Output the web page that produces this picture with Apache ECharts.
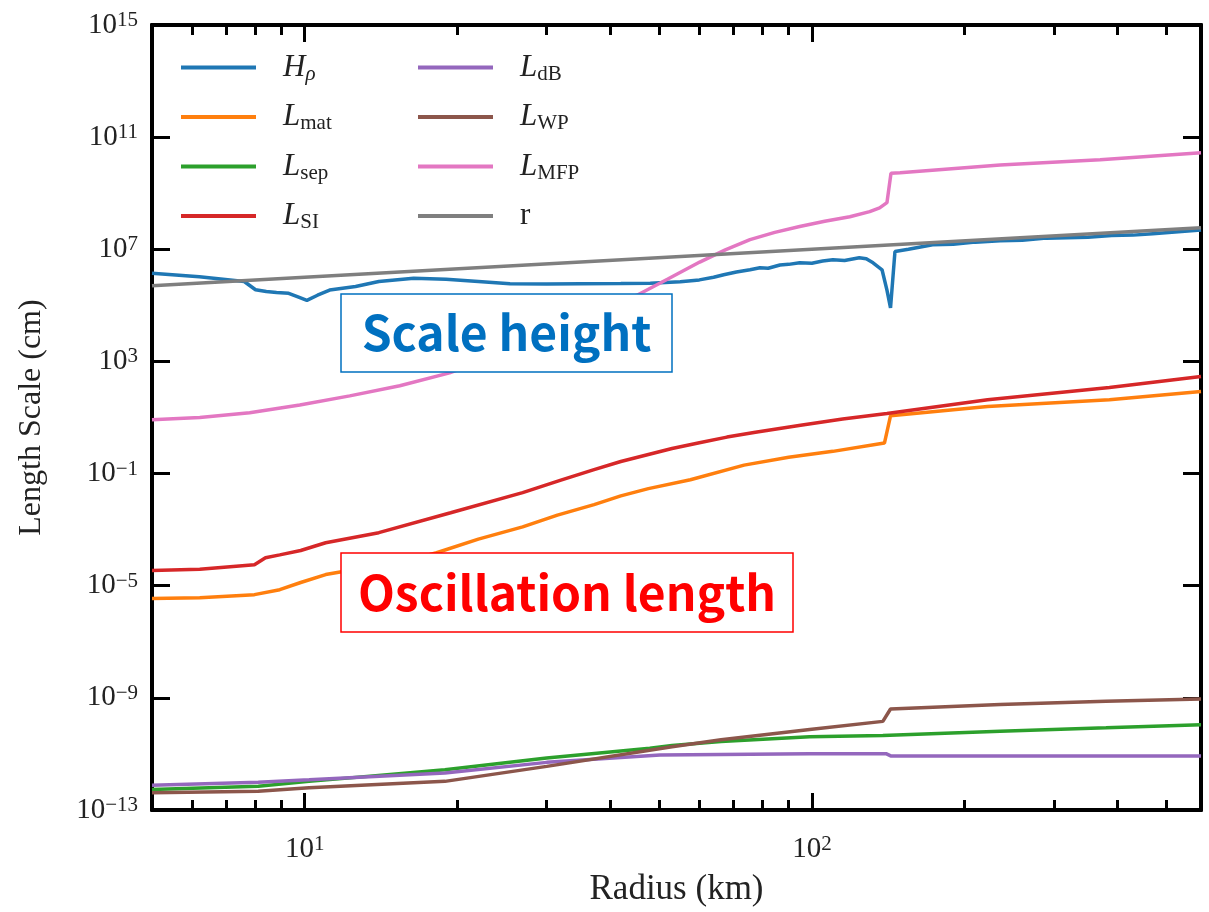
<!DOCTYPE html>
<html>
<head>
<meta charset="utf-8">
<script src="https://cdn.jsdelivr.net/npm/echarts@6/dist/echarts.min.js"></script>
<style>
html,body{margin:0;padding:0;background:#fff;}
#chart{width:1209px;height:912px;}
</style>
</head>
<body>
<div id="chart"></div>
<script>
// ---- axis ranges and ticks ----
const xMin = 5, xMax = 585;
const yMin = 1e-13, yMax = 1e15;
const xMajorTicks = [10, 100];
const xMinorTicks = [6, 7, 8, 9, 20, 30, 40, 50, 60, 70, 80, 90, 200, 300, 400, 500];
const yTicks = [1e-13, 1e-9, 1e-5, 1e-1, 1e3, 1e7, 1e11, 0.99999e15];

// ---- series: [radius (km), length (cm)] ----
const H_rho = [[5,1.41e6],[6.2,1.05e6],[7.6,7.1e5],[8.0,3.6e5],[8.4,3.1e5],[8.8,2.9e5],[9.3,2.7e5],[9.7,2.0e5],[10.1,1.5e5],[10.6,2.3e5],[11.2,3.5e5],[12.6,4.7e5],[14.0,7.1e5],[16.4,9.3e5],[19.0,8.5e5],[22.0,7.1e5],[25.4,5.9e5],[30,5.8e5],[35,5.9e5],[42,6.0e5],[48,6.2e5],[55,6.9e5],[60,8.1e5],[64,1.0e6],[67,1.23e6],[71,1.55e6],[75.5,1.86e6],[79,2.2e6],[82,2.1e6],[86.5,2.75e6],[90,2.9e6],[94.6,3.3e6],[100,3.2e6],[105,3.8e6],[110,4.2e6],[116,4.0e6],[124,5.0e6],[128,4.6e6],[132,3.3e6],[137.5,1.86e6],[140.6,3.5e5],[142.9,8.1e4],[145.8,8.3e6],[155,1.0e7],[173,1.45e7],[190,1.5e7],[210,1.8e7],[235,2.0e7],[260,2.1e7],[290,2.5e7],[319,2.6e7],[350,2.7e7],[390,3.1e7],[430,3.2e7],[470,3.6e7],[520,4.1e7],[585,4.9e7]];
const L_mat = [[5,3.5e-6],[6.21,3.7e-6],[7.96,4.8e-6],[8.93,7.2e-6],[9.82,1.3e-5],[11.0,2.5e-5],[11.9,3.2e-5],[15.4,6.6e-5],[18.2,1.5e-4],[22,4.6e-4],[26.9,1.26e-3],[31.5,3.3e-3],[37.2,7.8e-3],[42,1.6e-2],[47.6,2.9e-2],[57.6,6.0e-2],[73.5,0.20],[90,0.38],[110,0.62],[139,1.23],[142.9,11.5],[222,24.5],[386,43],[585,85]];
const L_sep = [[5,5.4e-13],[8.1,7.1e-13],[10.2,1.05e-12],[18.9,2.75e-12],[30,7.2e-12],[47.9,1.6e-11],[53,2.0e-11],[66.2,2.8e-11],[99,4.1e-11],[138,4.5e-11],[235,6.5e-11],[380,8.5e-11],[585,1.1e-10]];
const L_SI = [[5,3.5e-5],[6.21,3.9e-5],[7.96,5.6e-5],[8.37,1.0e-4],[8.93,1.26e-4],[9.82,1.8e-4],[11.0,3.4e-4],[14.0,7.8e-4],[19.4,4.0e-3],[26.9,2.1e-2],[32,5.8e-2],[37.2,0.138],[42,0.27],[47.6,0.48],[53,0.78],[60,1.25],[68,2.0],[77.4,3.0],[95,5.3],[115,8.8],[140.6,14],[222,43],[386,118],[585,290]];
const L_dB = [[5,7.6e-13],[8.1,9.8e-13],[10.2,1.2e-12],[18.9,2.1e-12],[30,5.0e-12],[50.2,9.1e-12],[66.2,9.5e-12],[99,1.02e-11],[140,1.02e-11],[143,8.5e-12],[585,8.5e-12]];
const L_WP = [[5,4.1e-13],[8.1,4.7e-13],[10.2,6.2e-13],[18.9,1.05e-12],[30,3.6e-12],[53,1.8e-11],[66.2,3.2e-11],[99,7.4e-11],[138,1.45e-10],[142.9,4.0e-10],[235,5.8e-10],[380,7.6e-10],[585,9.1e-10]];
const L_MFP = [[5,8.3],[6.21,10],[7.79,14.8],[9.78,28],[12.27,59],[15.4,135],[19.3,390],[24.2,1.7e3],[30.4,1.05e4],[37.5,6.3e4],[45.2,2.3e5],[52,8.7e5],[60.1,3.5e6],[67.5,9.5e6],[75.5,2.2e7],[84.5,4.0e7],[94.6,6.5e7],[106,1.0e8],[118.8,1.45e8],[130,2.2e8],[136,3.0e8],[140.6,4.6e8],[143.2,5.2e9],[149.2,5.4e9],[235,1.02e10],[370,1.55e10],[585,2.8e10]];
const r_line = [[5,5e5],[10,1e6],[100,1e7],[585,5.85e7]];

const seriesNames = ['Hrho','Lmat','Lsep','LSI','LdB','LWP','LMFP','r'];
const seriesData = [H_rho, L_mat, L_sep, L_SI, L_dB, L_WP, L_MFP, r_line];
const colors = ['#1f77b4','#ff7f0e','#2ca02c','#d62728','#9467bd','#8c564b','#e377c2','#7f7f7f'];
const legendLabels = {
  Hrho: '{gap|}{i|H}{subi|ρ}',
  Lmat: '{gap|}{i|L}{sub|mat}',
  Lsep: '{gap|}{i|L}{sub|sep}',
  LSI: '{gap|}{i|L}{sub|SI}',
  LdB: '{gap|}{i|L}{sub|dB}',
  LWP: '{gap|}{i|L}{sub|WP}',
  LMFP: '{gap|}{i|L}{sub|MFP}',
  r: '{gap|}{rm|r}'
};

const SERIF = '"Liberation Serif", "DejaVu Serif", serif';
const TXT = '#222';

function powLabel(v) {
  const e = Math.round(Math.log10(v));
  const s = e < 0 ? '\u2212' + Math.abs(e) : String(e);
  return '{b|10}{s|' + s + '}';
}
const powRich = {
  b: {fontFamily: SERIF, fontSize: 29, lineHeight: 30, color: TXT},
  s: {fontFamily: SERIF, fontSize: 21, lineHeight: 14, verticalAlign: 'top', color: TXT}
};
const legendRich = {
  gap: {width: 22},
  i: {fontFamily: SERIF, fontStyle: 'italic', fontSize: 31, lineHeight: 34, color: TXT},
  rm: {fontFamily: SERIF, fontSize: 31, lineHeight: 34, color: TXT},
  sub: {fontFamily: SERIF, fontSize: 21, lineHeight: 20, verticalAlign: 'bottom', color: TXT},
  subi: {fontFamily: SERIF, fontStyle: 'italic', fontSize: 21, lineHeight: 20, verticalAlign: 'bottom', color: TXT}
};

const axisLineStyle = {show: true, lineStyle: {color: '#000', width: 4}};
function xAxisDef(pos, ticks, len, withLabel) {
  return {
    type: 'log', logBase: 10, min: xMin, max: xMax, position: pos,
    axisLine: axisLineStyle,
    axisTick: {show: true, inside: true, length: len, customValues: ticks, lineStyle: {color: '#000', width: 3}},
    axisLabel: withLabel ? {show: true, customValues: ticks, formatter: powLabel, rich: powRich, margin: 24} : {show: false},
    splitLine: {show: false}, minorTick: {show: false}, minorSplitLine: {show: false}
  };
}
const xAxes = [
  Object.assign(xAxisDef('bottom', xMajorTicks, 17, true), {
    name: 'Radius (km)', nameLocation: 'middle', nameGap: 62,
    nameTextStyle: {fontFamily: SERIF, fontSize: 35, color: TXT}
  }),
  xAxisDef('bottom', xMinorTicks, 10, false),
  xAxisDef('top', xMajorTicks, 17, false),
  xAxisDef('top', xMinorTicks, 10, false)
];
const yAxes = [
  {
    type: 'log', logBase: 10, min: yMin, max: yMax, position: 'left',
    axisLine: axisLineStyle,
    axisTick: {show: true, inside: true, length: 18, customValues: yTicks, lineStyle: {color: '#000', width: 3}},
    axisLabel: {show: true, customValues: yTicks, formatter: powLabel, rich: powRich, margin: 14,
                showMinLabel: true, showMaxLabel: true, hideOverlap: false},
    splitLine: {show: false}, minorTick: {show: false},
    name: 'Length Scale (cm)', nameLocation: 'middle', nameGap: 104, nameRotate: 90,
    nameTextStyle: {fontFamily: SERIF, fontSize: 32, color: TXT}
  },
  {
    type: 'log', logBase: 10, min: yMin, max: yMax, position: 'right',
    axisLine: axisLineStyle,
    axisTick: {show: true, inside: true, length: 18, customValues: yTicks, lineStyle: {color: '#000', width: 3}},
    axisLabel: {show: false}, splitLine: {show: false}, minorTick: {show: false}
  }
];

const series = seriesNames.map((n, k) => ({
  name: n, type: 'line', data: seriesData[k], xAxisIndex: 0, yAxisIndex: 0,
  showSymbol: false, symbol: 'none', smooth: false, clip: true,
  lineStyle: {color: colors[k], width: 3.5}, itemStyle: {color: colors[k]},
  z: 2 + k * 0.01
}));

function legendDef(names, left) {
  return {
    data: names, left: left, top: 52, orient: 'vertical', icon: 'rect',
    itemWidth: 75, itemHeight: 4, itemGap: 17, padding: 0,
    formatter: n => legendLabels[n],
    textStyle: {rich: legendRich, color: TXT}, selectedMode: false
  };
}

const BOXFONT = 'bold 48px "Noto Sans CJK JP", "Noto Sans", sans-serif';
const chart = echarts.init(document.getElementById('chart'), null, {renderer: 'canvas'});
chart.setOption({
  animation: false,
  backgroundColor: '#fff',
  color: colors,
  grid: {left: 152, right: 8, top: 25, bottom: 101, containLabel: false},
  xAxis: xAxes,
  yAxis: yAxes,
  legend: [legendDef(seriesNames.slice(0, 4), 181), legendDef(seriesNames.slice(4), 418)],
  series: series,
  graphic: [
    {type: 'rect', z: 100, shape: {x: 341, y: 294, width: 331, height: 78}, style: {fill: '#fff', stroke: '#0070C0', lineWidth: 1.5}},
    {type: 'text', z: 101, x: 506.5, y: 333, style: {text: 'Scale height', font: BOXFONT, fill: '#0070C0', align: 'center', verticalAlign: 'middle'}},
    {type: 'rect', z: 100, shape: {x: 341, y: 553, width: 452, height: 79}, style: {fill: '#fff', stroke: '#FF0000', lineWidth: 1.5}},
    {type: 'text', z: 101, x: 567, y: 592.5, style: {text: 'Oscillation length', font: BOXFONT, fill: '#FF0000', align: 'center', verticalAlign: 'middle'}}
  ]
});
</script>
</body>
</html>
